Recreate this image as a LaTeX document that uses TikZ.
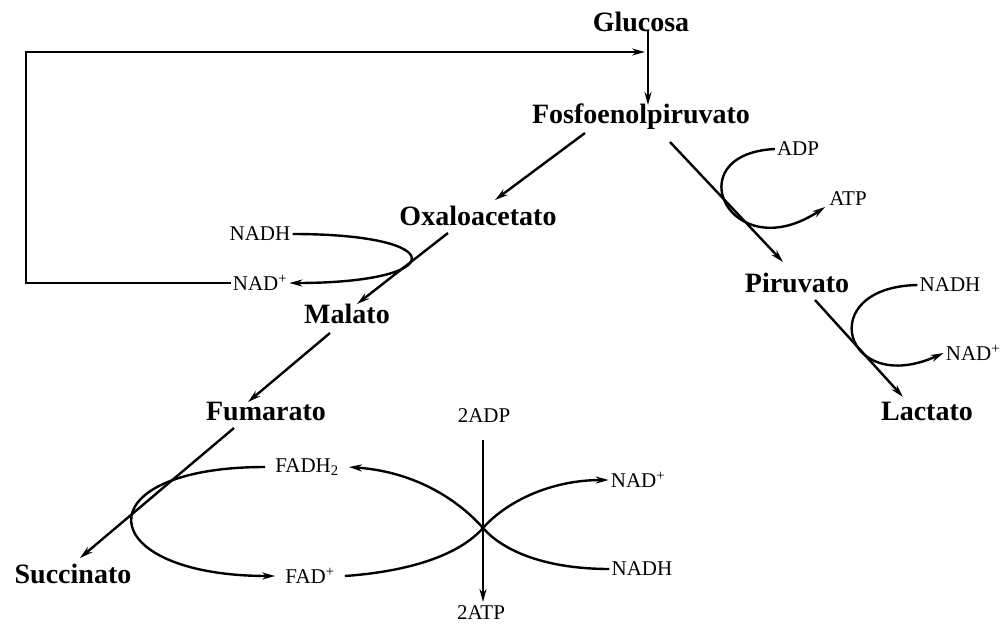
\documentclass[tikz,border=0pt]{standalone}
\usepackage{fontspec}
\setmainfont{Liberation Serif}
\usepackage{tikz}
\usetikzlibrary{arrows.meta, calc}

\begin{document}
\begin{tikzpicture}[x=1pt, y=-1pt,
    % Styles
    met/.style={font=\fontsize{28}{30}\selectfont\bfseries, inner sep=1pt},
    cof/.style={font=\fontsize{21}{23}\selectfont, inner sep=2pt},
    wide/.style={inner xsep=10pt},
    arrow/.style={-{Stealth[length=13pt, width=7pt]}, line width=2.4pt},
    back/.style={-{Stealth[length=13pt, width=7pt]}, line width=1.8pt}
  ]
    \useasboundingbox (0,0) rectangle (1007,630);

    % === Metabolites ===
    \node[met] (glu) at (641,22) {Glucosa};
    \node[met] (fep) at (641,117) {Fosfoenolpiruvato};
    \node[met] (oxa) at (478,216) {Oxaloacetato};
    \node[met] (mal) at (347,314) {Malato};
    \node[met] (fum) at (266,411) {Fumarato};
    \node[met] (suc) at (73,574) {Succinato};
    \node[met] (pir) at (797,283) {Piruvato};
    \node[met] (lac) at (927,411) {Lactato};

    % === Cofactors ===
    \node[cof] (nadh1) at (260,234) {NADH};
    \node[cof] (nad1) at (260,283) {NAD\textsuperscript{+}};
    \node[cof] (adp) at (798,149) {ADP};
    \node[cof] (atp) at (848,199) {ATP};
    \node[cof] (nadh2) at (950,285) {NADH};
    \node[cof] (nad2) at (973,353) {NAD\textsuperscript{+}};
    \node[cof, wide] (fadh) at (307,467) {FADH\textsubscript{2}};
    \node[cof, wide] (fad) at (310,576) {FAD\textsuperscript{+}};
    \node[cof] (adp2) at (484,416) {2ADP};
    \node[cof] (atp2) at (481,613) {2ATP};
    \node[cof] (nad3) at (638,480) {NAD\textsuperscript{+}};
    \node[cof] (nadh3) at (642,569) {NADH};

    \coordinate (join) at (645,52);
    \coordinate (cross) at (483,528);

    % === Main pathway ===
    \draw[arrow] ($(glu)+(7,8)$) -- ($(fep)+(7,-12)$);
    \draw[arrow] ($(fep)+(-56,16)$) -- ($(oxa)+(17,-16)$);
    \draw[arrow] ($(fep)+(29,25)$) -- ($(pir)+(-14,-21)$);
    \draw[arrow] ($(oxa)+(-30,17)$) -- ($(mal)+(10,-10)$);
    \draw[arrow] ($(mal)+(-17,19)$) -- ($(fum)+(-18,-9)$);
    \draw[arrow] ($(fum)+(-32,17)$) -- ($(suc)+(7,-16)$);
    \draw[arrow] ($(pir)+(18,17)$) -- ($(lac)+(-24,-14)$);
    \draw[arrow] ($(adp2)+(-1,24)$) -- ($(atp2)+(2,-11)$);

    % === Cofactor loops ===
    \draw[arrow] (nadh1.east) .. controls +(160,0) and +(160,0) .. (nad1.east);
    \draw[back] (nad1.west) -- ++(-205,0) |- (join);
    \draw[arrow] (adp.west) .. controls +(-100,5) and +(-95,63) .. ($(atp.west)+(-2,8)$);
    \draw[arrow] (nadh2.west) .. controls +(-105,2) and +(-100,45) .. (nad2.west);
    \draw[arrow] (fadh.west) .. controls +(-184,0) and +(-184,0) .. (fad.west);
    \draw[arrow] (fad.east) .. controls +(70,-5) and +(-22,25) .. (cross)
                 .. controls +(22,-25) and +(-60,0) .. (nad3.west);
    \draw[arrow] (nadh3.west) .. controls +(-60,0) and +(22,25) .. (cross)
                 .. controls +(-22,-25) and +(70,5) .. (fadh.east);

\end{tikzpicture}
\end{document}
